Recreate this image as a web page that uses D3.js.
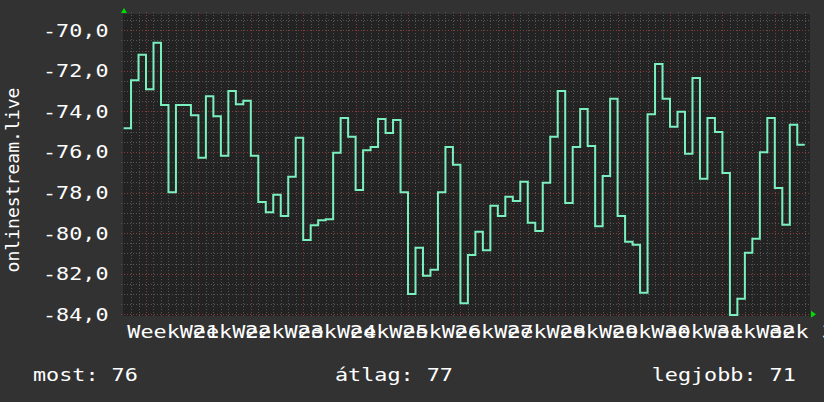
<!DOCTYPE html>
<html>
<head>
<meta charset="utf-8">
<script src="https://cdn.jsdelivr.net/npm/d3@7"></script>
<style>
    html, body { margin: 0; padding: 0; background: #323232; }
    svg { display: block; }
</style>
</head>
<body>
<div id="chart"></div>
<script>
// -----------------------------------------------------------------------------
// Data — daily values (one per day, from 3 days before "Week 21" starts).
// -----------------------------------------------------------------------------
const firstWeek = 21;
const weekLabels = ["Week 21", "Week 22", "Week 23", "Week 24", "Week 25", "Week 26",
    "Week 27", "Week 28", "Week 29", "Week 30", "Week 31", "Week 32", "Week 33"];
const firstDayOffset = -3;   // first value belongs to the day 3 days before week 21
const dailyValues = [
    -74.83, -72.46, -71.21,
    -72.91, -70.62, -73.69, -77.98, -73.69, -73.69, -74.19,
    -76.29, -73.25, -74.24, -76.19, -73.00, -73.65, -73.48,
    -76.19, -78.47, -78.97, -78.11, -79.16, -77.22, -75.30,
    -80.34, -79.61, -79.36, -79.31, -76.04, -74.32, -75.25,
    -77.88, -75.91, -75.75, -74.38, -75.06, -74.43, -77.98,
    -83.00, -80.72, -82.10, -81.81, -77.98, -75.75, -76.63,
    -83.45, -81.08, -79.93, -80.84, -78.65, -79.16, -78.21,
    -78.41, -77.47, -79.49, -79.89, -77.52, -75.25, -72.99,
    -78.51, -75.75, -73.88, -75.70, -79.66, -77.18, -73.38,
    -79.16, -80.43, -80.57, -82.94, -74.14, -71.67, -73.38,
    -74.76, -74.02, -76.09, -72.36, -77.32, -74.32, -75.02,
    -77.03, -84.04, -83.23, -80.97, -80.28, -76.01, -74.32,
    -77.77, -79.59, -74.66, -75.65
];
const yTicks = [-84, -82, -80, -78, -76, -74, -72, -70];
const yTitle = "onlinestream.live";
const legendItems = ["most: 76", "átlag: 77", "legjobb: 71"];

// -----------------------------------------------------------------------------
// Layout
// -----------------------------------------------------------------------------
const W = 824, H = 402;
const plot = { left: 123, right: 810, top: 14, bottom: 316 };
const CHAR_W = 13.1;                 // stretched monospace advance
const FONT = "'DejaVu Sans Mono', 'Liberation Mono', monospace";
const COLORS = {
    bg: "#323232", plotBg: "#232323", minor: "#555555", major: "#8a3a3a",
    line: "#7af0be", text: "#ffffff", arrow: "#00dd00"
};

const DAY = 864e5;
const week21 = Date.UTC(2023, 4, 22);      // Monday of ISO week 21
const dayDate = n => new Date(week21 + n * DAY);

const x = d3.scaleUtc()
    .domain([dayDate(-2.94), dayDate(88.7)])
    .range([124, 810]);
const y = d3.scaleLinear()
    .domain([-84, -69.2])
    .range([314.3, 14]);

const series = dailyValues.map((v, i) => ({ date: dayDate(firstDayOffset + i), value: v }));
// extra closing point so the last step has its full day width
series.push({ date: dayDate(firstDayOffset + dailyValues.length), value: dailyValues[dailyValues.length - 1] });

const svg = d3.select("#chart").append("svg")
    .attr("width", W).attr("height", H)
    .style("background", COLORS.bg);

svg.append("rect")
    .attr("x", plot.left).attr("y", plot.top)
    .attr("width", plot.right - plot.left).attr("height", plot.bottom - plot.top)
    .attr("fill", COLORS.plotBg);

// -----------------------------------------------------------------------------
// Grid — minor every day / 0.5 unit, major every week / 2 units.
// -----------------------------------------------------------------------------
const grid = svg.append("g").attr("stroke-width", 1).attr("stroke-dasharray", "1,2").attr("fill", "none");

const days = d3.utcDay.range(x.domain()[0], x.domain()[1]).map(d => d);
const mondays = d3.utcMonday.range(x.domain()[0], x.domain()[1]);
const isMonday = d => d.getUTCDay() === 1;

grid.selectAll("line.vmin").data(days.filter(d => !isMonday(d))).join("line")
    .attr("x1", d => Math.round(x(d)) + 0.5).attr("x2", d => Math.round(x(d)) + 0.5)
    .attr("y1", plot.top - 2).attr("y2", plot.bottom)
    .attr("stroke", COLORS.minor);

const minorY = d3.range(-84, -69.2, 0.5).filter(v => v % 2 !== 0);
grid.selectAll("line.hmin").data(minorY).join("line")
    .attr("y1", d => Math.round(y(d)) + 0.5).attr("y2", d => Math.round(y(d)) + 0.5)
    .attr("x1", plot.left - 2).attr("x2", plot.right)
    .attr("stroke", COLORS.minor);

grid.selectAll("line.vmaj").data(mondays).join("line")
    .attr("x1", d => Math.round(x(d)) + 0.5).attr("x2", d => Math.round(x(d)) + 0.5)
    .attr("y1", plot.top - 2).attr("y2", plot.bottom)
    .attr("stroke", COLORS.major);

grid.selectAll("line.hmaj").data(yTicks).join("line")
    .attr("y1", d => Math.round(y(d)) + 0.5).attr("y2", d => Math.round(y(d)) + 0.5)
    .attr("x1", plot.left - 2).attr("x2", plot.right)
    .attr("stroke", COLORS.major);

// -----------------------------------------------------------------------------
// Series — stepped line, clipped to the plot area
// -----------------------------------------------------------------------------
svg.append("clipPath").attr("id", "clip").append("rect")
    .attr("x", plot.left).attr("y", plot.top - 1)
    .attr("width", plot.right - plot.left).attr("height", plot.bottom - plot.top + 1);

const line = d3.line()
    .x(d => x(d.date))
    .y(d => y(d.value))
    .curve(d3.curveStepAfter);

svg.append("path")
    .datum(series)
    .attr("clip-path", "url(#clip)")
    .attr("fill", "none")
    .attr("stroke", COLORS.line)
    .attr("stroke-width", 2)
    .attr("d", line);

// -----------------------------------------------------------------------------
// Arrows at the axis ends
// -----------------------------------------------------------------------------
svg.append("path").attr("fill", COLORS.arrow)
    .attr("d", `M${plot.left - 2},${plot.top - 1} L${plot.left + 4},${plot.top - 1} L${plot.left + 1},${plot.top - 6} Z`);
svg.append("path").attr("fill", COLORS.arrow)
    .attr("d", `M${plot.right + 1},${y(-84) - 3.5} L${plot.right + 1},${y(-84) + 3.5} L${plot.right + 6},${y(-84)} Z`);

// -----------------------------------------------------------------------------
// Text — monospace stretched horizontally via textLength
// -----------------------------------------------------------------------------
function label(sel, str, xStart, yBase, size = 17) {
    return sel.append("text")
        .attr("x", xStart).attr("y", yBase)
        .attr("textLength", str.length * CHAR_W)
        .attr("lengthAdjust", "spacingAndGlyphs")
        .attr("font-family", FONT).attr("font-size", size)
        .attr("fill", COLORS.text)
        .text(str);
}

const fmt = d3.formatLocale({ decimal: ",", thousands: " ", grouping: [3], currency: ["", ""], minus: "-" }).format(".1f");
yTicks.forEach(v => {
    const s = fmt(v);
    label(svg, s, 108.5 - s.length * CHAR_W, y(v) + 6.5);
});

weekLabels.forEach((s, i) => {
    const mid = x(dayDate(i * 7 + 3.5)) + 1;
    label(svg, s, mid - s.length * CHAR_W / 2, 337.5);
});

// rotated axis title
svg.append("text")
    .attr("transform", `translate(18.5, ${180}) rotate(-90)`)
    .attr("text-anchor", "middle")
    .attr("textLength", 185)
    .attr("lengthAdjust", "spacingAndGlyphs")
    .attr("font-family", FONT).attr("font-size", 17)
    .attr("fill", COLORS.text)
    .text(yTitle);

const legendX = [33, 335, 651.7];
legendItems.forEach((s, i) => label(svg, s, legendX[i], 380.5));
</script>
</body>
</html>
